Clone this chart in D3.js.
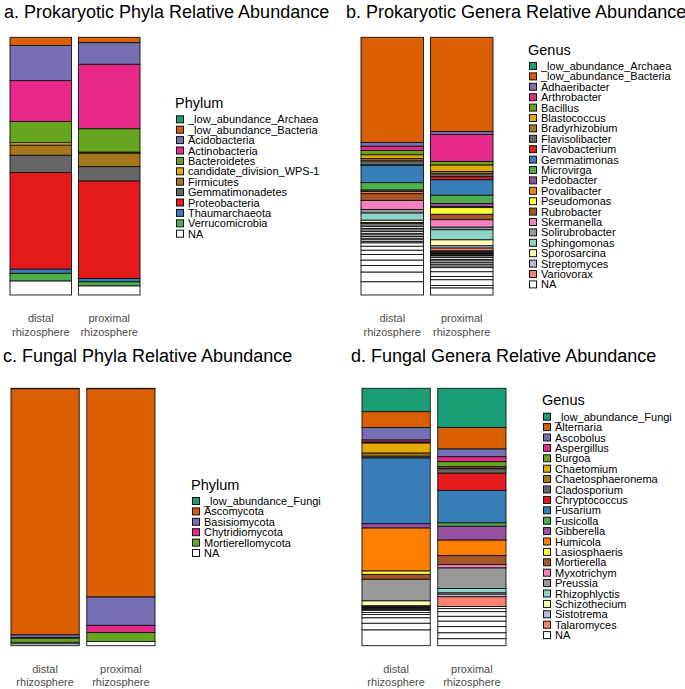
<!DOCTYPE html>
<html>
<head>
<meta charset="utf-8">
<script src="https://cdn.jsdelivr.net/npm/d3@7"></script>
<style>
body { margin: 0; background: #fff; }
svg { font-family: "Liberation Sans", Arial, sans-serif; }
</style>
</head>
<body>
<div id="chart"></div>
<script>
// Sample names shown under the bars
var sampleLabels = [["distal", "rhizosphere"], ["proximal", "rhizosphere"]];

// Fill colours, in legend order (NA is drawn white)
var palette = ["#1B9E77", "#D95F02", "#7570B3", "#E7298A", "#66A61E", "#E6AB02", "#A6761D", "#666666",
    "#E41A1C", "#377EB8", "#4DAF4A", "#984EA3", "#FF7F00", "#FFFF33", "#A65628", "#F781BF", "#999999",
    "#8DD3C7", "#FFFFB3", "#BEBADA", "#FB8072"];

// a. Prokaryotic phyla (%)
var prokPhyla = ["_low_abundance_Archaea", "_low_abundance_Bacteria", "Acidobacteria", "Actinobacteria",
    "Bacteroidetes", "candidate_division_WPS-1", "Firmicutes", "Gemmatimonadetes", "Proteobacteria",
    "Thaumarchaeota", "Verrucomicrobia"];
var prokPhylaDistal = [0, 3.2, 13.6, 15.9, 8.2, 1.0, 3.9, 6.7, 37.5, 1.6, 3.0];
var prokPhylaDistalNA = [5.4];
var prokPhylaProximal = [0, 2.1, 8.4, 25.0, 9.1, 0.4, 5.2, 5.6, 37.8, 1.3, 1.6];
var prokPhylaProximalNA = [3.5];

// b. Prokaryotic genera (%)
var prokGenera = ["_low_abundance_Archaea", "_low_abundance_Bacteria", "Adhaeribacter", "Arthrobacter",
    "Bacillus", "Blastococcus", "Bradyrhizobium", "Flavisolibacter", "Flavobacterium", "Gemmatimonas",
    "Microvirga", "Pedobacter", "Povalibacter", "Pseudomonas", "Rubrobacter", "Skermanella",
    "Solirubrobacter", "Sphingomonas", "Sporosarcina", "Streptomyces", "Variovorax"];
var prokGeneraDistal = [0, 40.8, 1.5, 1.6, 1.7, 1.5, 0.9, 1.6, 0.1, 6.7, 2.9, 0.5, 0.9, 0, 2.6, 3.5, 1.4, 2.8, 0.9, 0.2, 0.2];
var prokGeneraDistalNA = [0.6, 0.6, 0.7, 0.6, 0.6, 0.7, 0.6, 0.6, 0.7, 0.6, 0.7, 0.5,
    1.3, 1.55, 1.65, 2.2, 2.05, 2.6, 3.75, 5.1];
var prokGeneraProximal = [0, 36.6, 1.1, 10.5, 1.4, 2.5, 0.9, 1.1, 1.2, 6.0, 3.2, 1.2, 0.4, 2.6, 2.1, 2.9, 1.0, 3.9, 2.3, 0.9, 1.1];
var prokGeneraProximalNA = [0.25, 0.25, 0.25, 0.25, 0.25, 0.25, 0.25, 0.25,
    0.6, 0.7, 0.6, 0.7, 0.6, 0.7, 0.6, 1.6, 1.8, 1.3, 2.2, 1.0, 2.7];

// c. Fungal phyla (%)
var fungPhyla = ["_low_abundance_Fungi", "Ascomycota", "Basisiomycota", "Chytridiomycota", "Mortierellomycota"];
var fungPhylaDistal = [0.2, 95.6, 1.1, 0.2, 1.6];
var fungPhylaDistalNA = [0.6, 0.7];
var fungPhylaProximal = [0.2, 80.9, 11.0, 2.8, 3.5];
var fungPhylaProximalNA = [1.6];

// d. Fungal genera (%)
var fungGenera = ["_low_abundance_Fungi", "Alternaria", "Ascobolus", "Aspergillus", "Burgoa", "Chaetomium",
    "Chaetosphaeronema", "Cladosporium", "Chryptococcus", "Fusarium", "Fusicolla", "Gibberella", "Humicola",
    "Lasiosphaeris", "Mortierella", "Myxotrichym", "Preussia", "Rhizophlyctis", "Schizothecium",
    "Sistotrema", "Talaromyces"];
var fungGeneraDistal = [9.1, 6.2, 4.8, 0.8, 0.4, 3.9, 1.2, 0.7, 0, 25.5, 0, 1.7, 16.7, 1.3, 1.9, 0, 8.4, 0, 1.9, 0, 0];
var fungGeneraDistalNA = [0.3, 0.3, 0.3, 0.3, 0.3, 0.3, 0.8, 0.8, 1.3, 2.1, 2.6, 6.1];
var fungGeneraProximal = [15.2, 8.4, 3.0, 1.9, 1.9, 0.6, 0.3, 1.7, 6.7, 12.6, 1.3, 5.4, 6.0, 0, 3.5, 1.3, 8.0, 1.7, 0.5, 1.0, 3.8];
var fungGeneraProximalNA = [0.8, 1.2, 1.8, 1.9, 2.1, 2.4, 2.3, 2.7];

// Appending the SVG
var svg = d3.select("#chart")
    .append("svg")
    .attr("width", 685)
    .attr("height", 689);

// Building stacked segments, the last one sitting on zero like ggplot does
function buildSegments(values, naValues) {
    var segs = [];
    values.forEach(function (v, i) { segs.push({ key: i, value: v }); });
    naValues.forEach(function (v) { segs.push({ key: -1, value: v }); });
    var cum = 0;
    for (var j = segs.length - 1; j >= 0; j--) {
        segs[j].y0 = cum;
        cum += segs[j].value;
        segs[j].y1 = cum;
    }
    return segs;
}

function colorFor(key) {
    return key < 0 ? "#FFFFFF" : palette[key];
}

// Drawing one panel
function drawPanel(p) {
    var g = svg.append("g");

    // Title
    g.append("text")
        .attr("x", p.titleX)
        .attr("y", p.titleY)
        .attr("font-size", 18)
        .attr("fill", "#000")
        .text(p.title);

    var xScale = d3.scaleBand()
        .domain([0, 1])
        .range([p.barLeft, p.barRight])
        .paddingInner(0.1)
        .paddingOuter(0);

    var yScale = d3.scaleLinear()
        .domain([0, 100])
        .range([p.bottom, p.top]);

    // Stacked bars
    p.series.forEach(function (s, i) {
        var segs = buildSegments(s.values, s.na);
        g.append("g")
            .selectAll("rect")
            .data(segs)
            .enter()
            .append("rect")
            .attr("x", xScale(i))
            .attr("width", xScale.bandwidth())
            .attr("y", function (d) { return yScale(d.y1); })
            .attr("height", function (d) { return yScale(d.y0) - yScale(d.y1); })
            .attr("fill", function (d) { return colorFor(d.key); })
            .attr("stroke", "#111")
            .attr("stroke-width", 0.9);
    });

    // X axis labels (two lines)
    sampleLabels.forEach(function (lines, i) {
        var t = g.append("text")
            .attr("text-anchor", "middle")
            .attr("font-size", 11)
            .attr("fill", "#4D4D4D");
        lines.forEach(function (line, k) {
            t.append("tspan")
                .attr("x", xScale(i) + xScale.bandwidth() / 2)
                .attr("y", p.bottom + 27 + k * 13.5)
                .text(line);
        });
    });

    // Legend
    var legendKeys = p.categories.map(function (c, i) { return { name: c, key: i }; });
    legendKeys.push({ name: "NA", key: -1 });

    g.append("text")
        .attr("x", p.legendX - 1)
        .attr("y", p.legendFirstY - 11.5)
        .attr("font-size", 14.5)
        .attr("fill", "#000")
        .text(p.legendTitle);

    var item = g.append("g")
        .selectAll(".legend-item")
        .data(legendKeys)
        .enter()
        .append("g")
        .attr("class", "legend-item")
        .attr("transform", function (d, i) { return "translate(" + p.legendX + "," + (p.legendFirstY + i * 10.4) + ")"; });

    item.append("rect")
        .attr("x", 0.5)
        .attr("y", -3.5)
        .attr("width", 7)
        .attr("height", 7)
        .attr("fill", function (d) { return colorFor(d.key); })
        .attr("stroke", "#111")
        .attr("stroke-width", 1);

    item.append("text")
        .attr("x", 12)
        .attr("y", 4)
        .attr("font-size", 11)
        .attr("fill", "#000")
        .text(function (d) { return d.name; });
}

drawPanel({
    title: "a. Prokaryotic Phyla Relative Abundance", titleX: 4, titleY: 18,
    barLeft: 10, barRight: 140, top: 37.3, bottom: 295,
    legendTitle: "Phylum", legendX: 176, legendFirstY: 119.3,
    categories: prokPhyla,
    series: [{ values: prokPhylaDistal, na: prokPhylaDistalNA }, { values: prokPhylaProximal, na: prokPhylaProximalNA }]
});

drawPanel({
    title: "b. Prokaryotic Genera Relative Abundance", titleX: 346, titleY: 18,
    barLeft: 361, barRight: 493, top: 37.3, bottom: 295,
    legendTitle: "Genus", legendX: 529, legendFirstY: 66,
    categories: prokGenera,
    series: [{ values: prokGeneraDistal, na: prokGeneraDistalNA }, { values: prokGeneraProximal, na: prokGeneraProximalNA }]
});

drawPanel({
    title: "c. Fungal Phyla Relative Abundance", titleX: 3, titleY: 362,
    barLeft: 11, barRight: 155, top: 388.3, bottom: 645.7,
    legendTitle: "Phylum", legendX: 192, legendFirstY: 501,
    categories: fungPhyla,
    series: [{ values: fungPhylaDistal, na: fungPhylaDistalNA }, { values: fungPhylaProximal, na: fungPhylaProximalNA }]
});

drawPanel({
    title: "d. Fungal Genera Relative Abundance", titleX: 351, titleY: 362,
    barLeft: 362, barRight: 506, top: 388.3, bottom: 645.7,
    legendTitle: "Genus", legendX: 543, legendFirstY: 416.7,
    categories: fungGenera,
    series: [{ values: fungGeneraDistal, na: fungGeneraDistalNA }, { values: fungGeneraProximal, na: fungGeneraProximalNA }]
});
</script>
</body>
</html>
